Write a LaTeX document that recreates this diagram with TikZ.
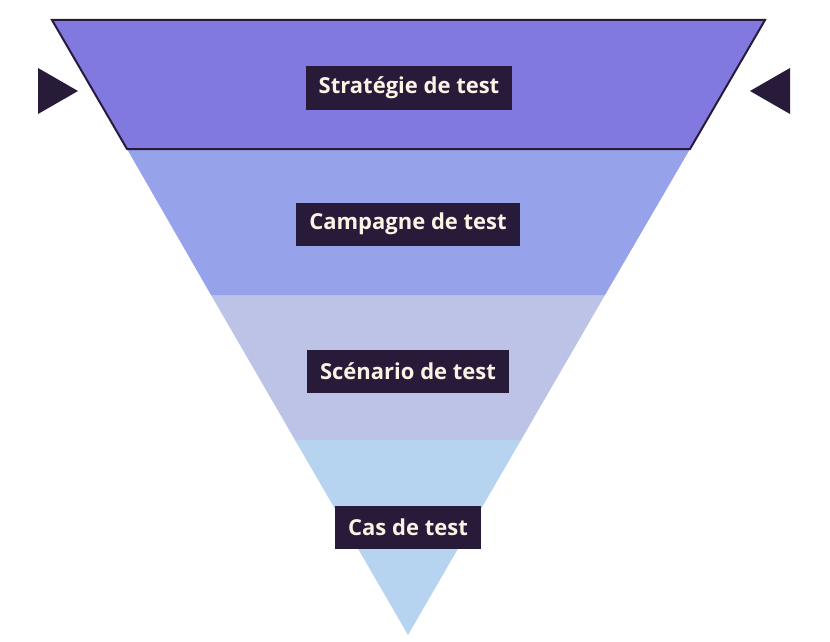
\documentclass[tikz,border=0pt]{standalone}
\usepackage{fontspec}
\setmainfont{Open Sans}
\definecolor{ink}{HTML}{281B3A}
\definecolor{cream}{HTML}{FBF3E4}
\definecolor{layerA}{HTML}{8178E0}
\definecolor{layerB}{HTML}{96A3EB}
\definecolor{layerC}{HTML}{BCC3E6}
\definecolor{layerD}{HTML}{B6D3F0}
\begin{document}
\begin{tikzpicture}[x=1pt,y=-1pt,
    stagebox/.style={fill=ink,text=cream,font=\bfseries\fontsize{22}{26}\selectfont,inner xsep=13pt,minimum height=43pt}]
  \useasboundingbox (0,0) rectangle (830,642);
  % layers of the funnel
  \fill[layerD] (295,440) -- (521,440) -- (408,635) -- cycle;
  \fill[layerC] (211,295) -- (605,295) -- (521,440) -- (295,440) -- cycle;
  \fill[layerB] (127,149) -- (690,149) -- (605,295) -- (211,295) -- cycle;
  \filldraw[fill=layerA,draw=ink,line width=2pt] (52,20) -- (765,20) -- (690,149) -- (127,149) -- cycle;
  % side markers
  \fill[ink] (38,68) -- (78,91) -- (38,114) -- cycle;
  \fill[ink] (790,68) -- (750,91) -- (790,114) -- cycle;
  % labels
  \node[stagebox] (strategie) at (409,88) {Stratégie de test};
  \node[stagebox] (campagne) at (408,224) {Campagne de test};
  \node[stagebox] (scenario) at (408,371) {Scénario de test};
  \node[stagebox] (cas) at (408,527) {Cas de test};
\end{tikzpicture}
\end{document}
